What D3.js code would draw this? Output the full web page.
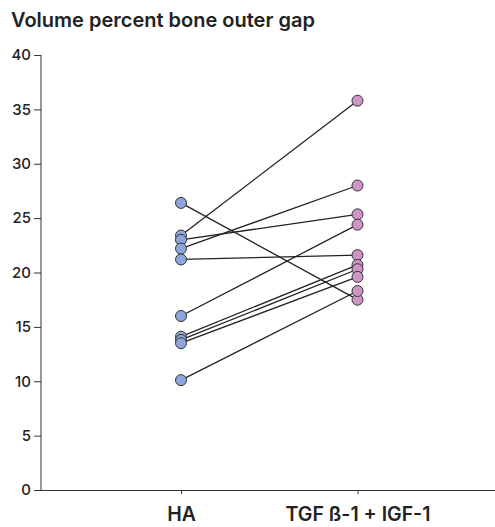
<!DOCTYPE html>
<html>
<head>
<meta charset="utf-8">
<script src="https://cdn.jsdelivr.net/npm/d3@7"></script>
<style>
  body { margin: 0; background: #fff; }
  svg { display: block; font-family: Inter, "Liberation Sans", Arial, sans-serif; }
</style>
</head>
<body>
<svg width="495" height="527"></svg>
<script>
  // groups on the x axis
  var groups = ['HA', 'TGF ß-1 + IGF-1'];
  // paired values, one entry per sample
  var haValues = [26.4, 23.4, 23.0, 22.2, 21.2, 16.0, 14.1, 13.8, 13.5, 10.1];
  var tgfValues = [17.5, 35.8, 25.35, 28.0, 21.6, 24.4, 20.7, 20.3, 19.6, 18.3];
  var yTicks = [0, 5, 10, 15, 20, 25, 30, 35, 40];
  var title = 'Volume percent bone outer gap';

  var font = 'Inter, "Liberation Sans", Arial, sans-serif';

  var svg = d3.select('svg'),
    margin = { top: 55, right: 0, bottom: 37, left: 41 },
    width = +svg.attr('width') - margin.left - margin.right,
    height = +svg.attr('height') - margin.top - margin.bottom,
    g = svg.append('g').attr('transform', 'translate(' + margin.left + ',' + margin.top + ')');

  var x = d3.scalePoint().domain(groups).range([140, 316.5]);
  var y = d3.scaleLinear().domain([0, 40]).range([height, 0]);

  // title
  svg.append('text')
    .attr('x', 11)
    .attr('y', 27)
    .attr('fill', '#222')
    .style('font-size', '20px')
    .style('font-weight', 600)
    .text(title);

  // y axis
  var yAxis = g.append('g')
    .call(d3.axisLeft(y).tickValues(yTicks).tickSize(7).tickPadding(3));
  yAxis.select('.domain').attr('stroke', '#333').attr('d', 'M0,' + y(40) + 'V' + (height + 0.5));
  yAxis.selectAll('.tick line').attr('stroke', '#333');
  yAxis.selectAll('.tick text')
    .attr('fill', '#222')
    .style('font-size', '15px')
    .style('font-weight', 500)
    .style('font-family', font);

  // x axis
  var xAxis = g.append('g')
    .attr('transform', 'translate(0,' + height + ')')
    .call(d3.axisBottom(x).tickSize(4).tickPadding(13));
  xAxis.select('.domain').attr('stroke', '#333').attr('d', 'M0,0.5H' + width);
  xAxis.selectAll('.tick line').attr('stroke', '#333');
  xAxis.selectAll('.tick text')
    .attr('fill', '#222')
    .style('font-size', '19.5px')
    .style('font-weight', 600)
    .style('font-family', font);

  // paired lines
  var pairs = haValues.map(function(v, i) { return [v, tgfValues[i]]; });
  g.selectAll('.pair')
    .data(pairs)
    .enter().append('line')
    .attr('class', 'pair')
    .attr('x1', x(groups[0]))
    .attr('x2', x(groups[1]))
    .attr('y1', function(d) { return y(d[0]); })
    .attr('y2', function(d) { return y(d[1]); })
    .attr('stroke', '#222')
    .attr('stroke-width', 1.3);

  // dots
  g.selectAll('.ha')
    .data(haValues)
    .enter().append('circle')
    .attr('r', 5.5)
    .attr('cx', x(groups[0]))
    .attr('cy', function(d) { return y(d); })
    .attr('fill', '#8ea6da')
    .attr('stroke', '#333')
    .attr('stroke-width', 1);

  g.selectAll('.tgf')
    .data(tgfValues)
    .enter().append('circle')
    .attr('r', 5.5)
    .attr('cx', x(groups[1]))
    .attr('cy', function(d) { return y(d); })
    .attr('fill', '#cf93c8')
    .attr('stroke', '#333')
    .attr('stroke-width', 1);
</script>
</body>
</html>
